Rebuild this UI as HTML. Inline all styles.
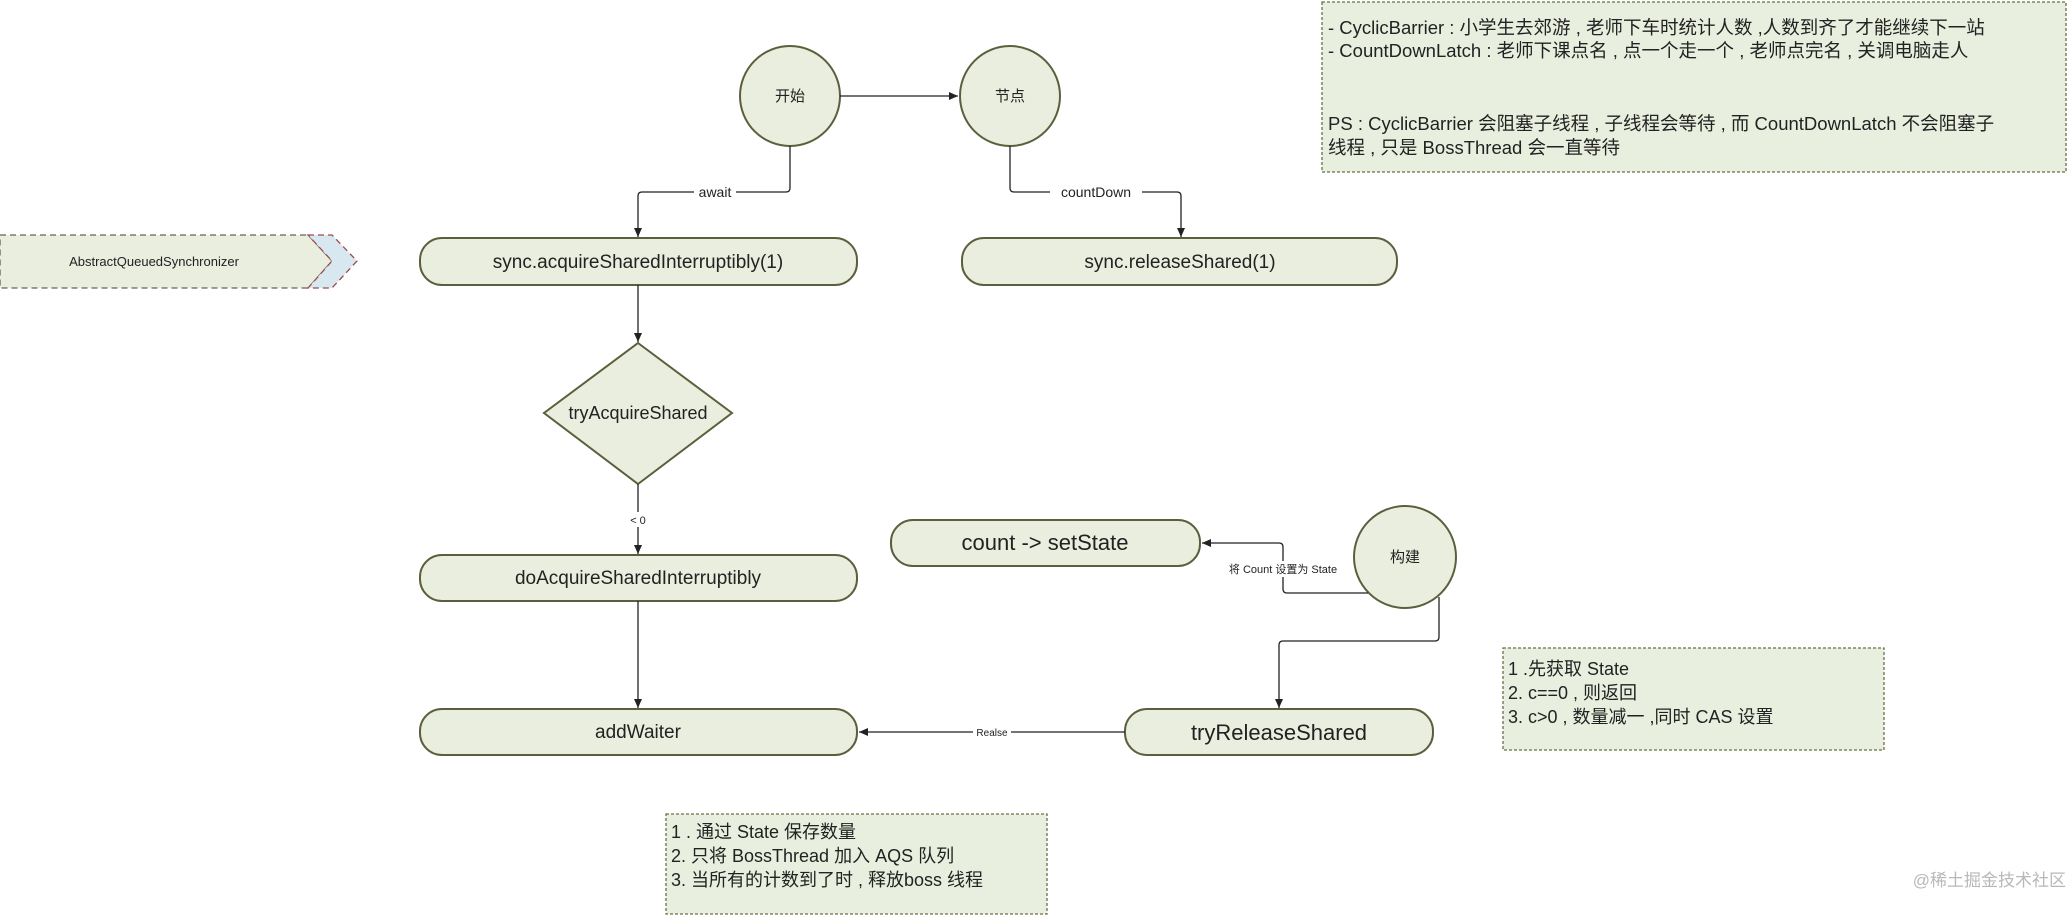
<!DOCTYPE html>
<html><head><meta charset="utf-8"><style>
html,body{margin:0;padding:0;background:#fff;}
svg{display:block;}
text{font-family:"Liberation Sans","Noto Sans CJK SC",sans-serif;fill:#222;}
.box{fill:#e9eedf;stroke:#5b5f3c;stroke-width:2;}
.ln{fill:none;stroke:#222;stroke-width:1.3;}
.note{fill:#e9efdf;stroke:#6b6f4a;stroke-width:1.3;stroke-dasharray:3,2;}
</style></head><body>
<svg width="2069" height="916" viewBox="0 0 2069 916" xmlns="http://www.w3.org/2000/svg">
<defs><marker id="a" markerWidth="10" markerHeight="10" refX="9" refY="5" orient="auto" markerUnits="userSpaceOnUse"><path d="M0,1 L9,5 L0,9 z" fill="#222"/></marker></defs>

<rect class="note" x="1322" y="2" width="744" height="170"/>
<text font-size="18.5" x="1328" y="34">- CyclicBarrier : 小学生去郊游 , 老师下车时统计人数 ,人数到齐了才能继续下一站</text>
<text font-size="18.5" x="1328" y="57">- CountDownLatch : 老师下课点名 , 点一个走一个 , 老师点完名 , 关调电脑走人</text>
<text font-size="18.5" x="1328" y="130">PS : CyclicBarrier  会阻塞子线程 , 子线程会等待 , 而 CountDownLatch  不会阻塞子</text>
<text font-size="18.5" x="1328" y="154">线程 , 只是 BossThread 会一直等待</text>

<path d="M0,235 L308,235 L332,261 L308,288 L0,288 Z" fill="#e9eedf" stroke="#6a5f5a" stroke-width="1.3" stroke-dasharray="6,4"/>
<path d="M308,235 L332,235 L357,261 L332,288 L308,288 L332,261 Z" fill="#d8e8f0" stroke="#a04a4a" stroke-width="1.3" stroke-dasharray="6,4"/>
<text font-size="13" x="154" y="266" text-anchor="middle">AbstractQueuedSynchronizer</text>

<circle class="box" cx="790" cy="96" r="50"/>
<text font-size="15" x="790" y="101" text-anchor="middle">开始</text>
<circle class="box" cx="1010" cy="96" r="50"/>
<text font-size="15" x="1010" y="101" text-anchor="middle">节点</text>
<line class="ln" x1="840" y1="96" x2="958" y2="96" marker-end="url(#a)"/>

<path class="ln" d="M790,146 V188 Q790,192 786,192 H642 Q638,192 638,196 V237" marker-end="url(#a)"/>
<rect x="694" y="184" width="42" height="16" fill="#fff"/>
<text font-size="14" x="715" y="197" text-anchor="middle">await</text>
<path class="ln" d="M1010,146 V188 Q1010,192 1014,192 H1177 Q1181,192 1181,196 V237" marker-end="url(#a)"/>
<rect x="1050" y="184" width="92" height="16" fill="#fff"/>
<text font-size="14" x="1096" y="197" text-anchor="middle">countDown</text>

<rect class="box" x="420" y="238" width="437" height="47" rx="22"/>
<text font-size="19" x="638" y="268" text-anchor="middle">sync.acquireSharedInterruptibly(1)</text>
<rect class="box" x="962" y="238" width="435" height="47" rx="22"/>
<text font-size="19" x="1180" y="268" text-anchor="middle">sync.releaseShared(1)</text>

<line class="ln" x1="638" y1="285" x2="638" y2="342" marker-end="url(#a)"/>
<path class="box" d="M638,343 L732,413 L638,484 L544,413 Z"/>
<text font-size="18" x="638" y="419" text-anchor="middle">tryAcquireShared</text>
<line class="ln" x1="638" y1="484" x2="638" y2="554" marker-end="url(#a)"/>
<rect x="626" y="512" width="24" height="15" fill="#fff"/>
<text font-size="11" x="638" y="524" text-anchor="middle">&lt; 0</text>

<rect class="box" x="420" y="555" width="437" height="46" rx="22"/>
<text font-size="19" x="638" y="584" text-anchor="middle">doAcquireSharedInterruptibly</text>
<line class="ln" x1="638" y1="601" x2="638" y2="708" marker-end="url(#a)"/>
<rect class="box" x="420" y="709" width="437" height="46" rx="22"/>
<text font-size="19" x="638" y="738" text-anchor="middle">addWaiter</text>

<rect class="box" x="891" y="520" width="309" height="46" rx="22"/>
<text font-size="22" x="1045" y="550" text-anchor="middle">count -&gt; setState</text>

<circle class="box" cx="1405" cy="557" r="51"/>
<text font-size="15" x="1405" y="562" text-anchor="middle">构建</text>
<path class="ln" d="M1368,593 H1287 Q1283,593 1283,589 V547 Q1283,543 1279,543 H1202" marker-end="url(#a)"/>
<rect x="1220" y="561" width="126" height="16" fill="#fff"/>
<text font-size="11" x="1283" y="573" text-anchor="middle">将 Count 设置为 State</text>
<path class="ln" d="M1439,597 V637 Q1439,641 1435,641 H1283 Q1279,641 1279,645 V708" marker-end="url(#a)"/>

<rect class="box" x="1125" y="709" width="308" height="46" rx="22"/>
<text font-size="22" x="1279" y="740" text-anchor="middle">tryReleaseShared</text>
<line class="ln" x1="1125" y1="732" x2="859" y2="732" marker-end="url(#a)"/>
<rect x="973" y="725" width="38" height="14" fill="#fff"/>
<text font-size="10" x="992" y="736" text-anchor="middle">Realse</text>

<rect class="note" x="1503" y="648" width="381" height="102"/>
<text font-size="18" x="1508" y="675">1 .先获取 State</text>
<text font-size="18" x="1508" y="699">2. c==0 , 则返回</text>
<text font-size="18" x="1508" y="723">3. c&gt;0 , 数量减一 ,同时 CAS 设置</text>

<rect class="note" x="666" y="814" width="381" height="100"/>
<text font-size="18" x="671" y="838">1 . 通过 State 保存数量</text>
<text font-size="18" x="671" y="862">2. 只将 BossThread 加入 AQS 队列</text>
<text font-size="18" x="671" y="886">3. 当所有的计数到了时 , 释放boss 线程</text>

<text font-size="17" x="2066" y="886" text-anchor="end" style="fill:#b8b8b8">@稀土掘金技术社区</text>
</svg>
</body></html>
